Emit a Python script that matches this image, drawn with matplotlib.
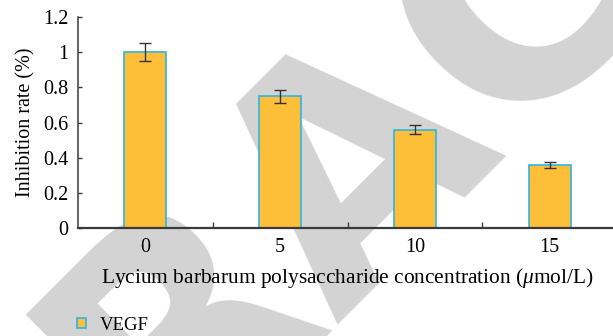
import numpy as np
import matplotlib
matplotlib.use("Agg")
import matplotlib.pyplot as plt

# data
conc = ["0", "5", "10", "15"]
inhibition = [1.00, 0.75, 0.56, 0.36]
err = [0.050, 0.037, 0.028, 0.018]
series = "VEGF"

FILL = "#FDBE38"
EDGE = "#2BB5E8"
AXC = "#3a3a3a"

plt.rcParams.update({"font.family": ["Liberation Serif", "DejaVu Serif"], "font.size": 14.5,
                     "mathtext.fontset": "custom", "mathtext.it": "Liberation Serif:italic"})

fig = plt.figure(figsize=(6.13, 3.36), dpi=100)

# watermark behind the chart
fig.text(418 / 613, 1 - 217 / 336, "RETRACTED", fontsize=225, fontweight="bold", family="DejaVu Sans",
         color="#d3d3d3", rotation=45, rotation_mode="anchor", ha="center", va="baseline", zorder=-1)

ax = fig.add_axes([78 / 613, 1 - 228 / 336, 539 / 613, 211 / 336])
ax.patch.set_alpha(0)
x = np.arange(len(conc))
bars = ax.bar(x, inhibition, 0.31, color=FILL, edgecolor=EDGE, linewidth=1.2, label=series,
              yerr=err, capsize=4, error_kw={"elinewidth": 1.0, "ecolor": "#333333", "capthick": 1.0})

ax.set_xlim(-0.5, 3.5)
ax.set_ylim(0, 1.2)
ax.set_yticks([0, 0.2, 0.4, 0.6, 0.8, 1.0, 1.2])
ax.set_yticklabels(["0", "0.2", "0.4", "0.6", "0.8", "1", "1.2"])
ax.set_xticks(x)
ax.set_xticklabels(conc)
ax.set_xticks([0.5, 1.5, 2.5], minor=True)
ax.tick_params(axis="x", which="major", length=0, pad=7)
ax.tick_params(axis="x", which="minor", direction="in", length=4, width=1, color=AXC)
ax.tick_params(axis="y", direction="in", length=3, width=1, color=AXC, pad=7)
for s in ("top", "right"):
    ax.spines[s].set_visible(False)
ax.spines["left"].set_color(AXC)
ax.spines["left"].set_linewidth(1.1)
ax.spines["bottom"].set_color(AXC)
ax.spines["bottom"].set_linewidth(1.6)

ax.set_ylabel("Inhibition rate (%)", labelpad=5)
ax.set_xlabel(r"Lycium barbarum polysaccharide concentration ($\mathit{\mu}$mol/L)",
              fontsize=15.4, labelpad=7)

fig.legend(handles=[bars], labels=[series], loc="center left", bbox_to_anchor=(77 / 613, 1 - 325 / 336),
           frameon=False, fontsize=13.5, handlelength=0.48, handleheight=0.48, handletextpad=0.75,
           borderaxespad=0, borderpad=0)

fig.savefig("out.png", dpi=100)
